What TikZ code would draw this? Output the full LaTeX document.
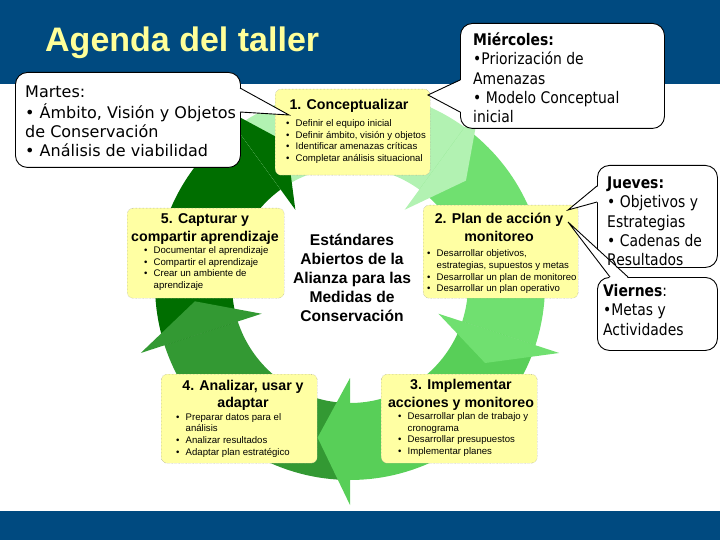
\documentclass[tikz,border=0pt]{standalone}
\usepackage{fontspec}
\setmainfont{Liberation Sans}
\newfontfamily\tah{DejaVu Sans}
\newfontfamily\tahn[FakeStretch=0.87]{DejaVu Sans}
\definecolor{band}{HTML}{004A80}
\definecolor{titley}{HTML}{FFFF99}
\definecolor{boxy}{HTML}{FFFFA3}
\definecolor{gA}{HTML}{B2F2B2}
\definecolor{gB}{HTML}{70E070}
\definecolor{gC}{HTML}{58CF58}
\definecolor{gD}{HTML}{339933}
\definecolor{gE}{HTML}{006E00}
\newcommand{\bl}{\makebox[9.5pt][l]{\textbullet}}
\newcommand{\ind}{\hspace*{9.5pt}}
\tikzset{
  ybox/.style={fill=boxy, draw=black!45, densely dotted, line width=0.4pt, rounded corners=6pt, anchor=north west, inner sep=0pt},
  btitle/.style={anchor=base, inner sep=0pt, font=\fontsize{14.2}{17.5}\selectfont\bfseries},
  blist/.style={anchor=base west, inner sep=0pt, font=\fontsize{9.6}{11.7}\selectfont},
  callout/.style={fill=white, draw=black, line width=0.9pt, rounded corners=12pt, anchor=north west, inner sep=0pt},
  ctext/.style={anchor=base west, inner sep=0pt, font=\tah\fontsize{16}{19}\selectfont},
  ctextn/.style={anchor=base west, inner sep=0pt, font=\tahn\fontsize{16}{19.3}\selectfont},
  cline/.style={draw=black, line width=0.9pt, line join=miter}
}
\begin{document}
\begin{tikzpicture}[x=1pt,y=-1pt]
\useasboundingbox (0,0) rectangle (720,540);
% bands
\fill[band] (0,0) rectangle (720,84);
\fill[band] (0,511) rectangle (720,540);
\node[anchor=base west, inner sep=0pt, text=titley, font=\fontsize{34}{34}\selectfont\bfseries] (title) at (45,52) {Agenda del taller};
% cycle of arrows
\begin{scope}[shift={(350,285)}]
\foreach \a/\c in {90/gD,162/gE,234/gA,306/gB,378/gC}{
  \pgfmathsetmacro\b{\a+72}
  \fill[\c] plot[domain=\a:\b,samples=40] ({195*cos(\x)},{195*sin(\x)}) -- plot[domain=\b:\a,samples=40] ({118*cos(\x)},{118*sin(\x)}) -- cycle;
}
\foreach \h/\c in {162/gD,234/gE,306/gA,378/gB,450/gC}{
  \fill[\c] (\h:220) -- (\h+12:156) -- (\h:93) -- cycle;
}
\end{scope}
% boxes
\node[ybox, minimum width=155pt, minimum height=86pt] (b1) at (275,89) {};
\node[btitle] (t1) at (349,110) {1. Conceptualizar};
\node[blist] (l1) at (286,126.5) {\begin{tabular}[t]{@{}l@{}}\bl Definir el equipo inicial\\ \bl Definir ámbito, visión y objetos\\ \bl Identificar amenazas críticas\\ \bl Completar análisis situacional\end{tabular}};

\node[ybox, minimum width=157pt, minimum height=90pt] (b5) at (127,208) {};
\node[btitle] (t5) at (205,224) {\begin{tabular}[t]{@{}c@{}}5. Capturar y\\ compartir aprendizaje\end{tabular}};
\node[blist] (l5) at (144,253.5) {\begin{tabular}[t]{@{}l@{}}\bl Documentar el aprendizaje\\ \bl Compartir el aprendizaje\\ \bl Crear un ambiente de\\ \ind aprendizaje\end{tabular}};

\node[ybox, minimum width=155pt, minimum height=93pt] (b2) at (423,205) {};
\node[btitle] (t2) at (499,223.5) {\begin{tabular}[t]{@{}c@{}}2. Plan de acción y\\ monitoreo\end{tabular}};
\node[blist] (l2) at (427,256.8) {\begin{tabular}[t]{@{}l@{}}\bl Desarrollar objetivos,\\ \ind estrategias, supuestos y metas\\ \bl Desarrollar un plan de monitoreo\\ \bl Desarrollar un plan operativo\end{tabular}};

\node[ybox, minimum width=156pt, minimum height=89pt] (b4) at (161,374) {};
\node[btitle] (t4) at (243,390) {\begin{tabular}[t]{@{}c@{}}4. Analizar, usar y\\ adaptar\end{tabular}};
\node[blist] (l4) at (176,420) {\begin{tabular}[t]{@{}l@{}}\bl Preparar datos para el\\ \ind análisis\\ \bl Analizar resultados\\ \bl Adaptar plan estratégico\end{tabular}};

\node[ybox, minimum width=156pt, minimum height=89pt] (b3) at (381,374) {};
\node[btitle] (t3) at (461,389.5) {\begin{tabular}[t]{@{}c@{}}3. Implementar\\ acciones y monitoreo\end{tabular}};
\node[blist] (l3) at (398,419.5) {\begin{tabular}[t]{@{}l@{}}\bl Desarrollar plan de trabajo y\\ \ind cronograma\\ \bl Desarrollar presupuestos\\ \bl Implementar planes\end{tabular}};
% centre
\node[anchor=base, inner sep=0pt, font=\fontsize{15.6}{19}\selectfont\bfseries] (ctr) at (352,245.5) {\begin{tabular}[t]{@{}c@{}}Estándares\\ Abiertos de la\\ Alianza para las\\ Medidas de\\ Conservación\end{tabular}};
% Martes callout
\node[callout, minimum width=225pt, minimum height=95pt] (mar) at (15,72) {};
\coordinate (martip) at (289,115);
\fill[white] (238.8,88) -- (martip) -- (238.8,112) -- cycle;
\draw[cline] (240,88) -- (martip) -- (240,112);
\node[ctext] (mart) at (25,97.5) {\begin{tabular}[t]{@{}l@{}}Martes:\\ • Ámbito, Visión y Objetos\\ de Conservación\\ • Análisis de viabilidad\end{tabular}};
% Miercoles callout
\node[callout, minimum width=204pt, minimum height=105pt] (mie) at (460,23) {};
\coordinate (mietip) at (428,95);
\fill[white] (461.2,80) -- (mietip) -- (461.2,112) -- cycle;
\draw[cline] (460,80) -- (mietip) -- (460,112);
\node[ctextn] (miet) at (473,45.5) {\begin{tabular}[t]{@{}l@{}}\textbf{Miércoles:}\\ •Priorización de\\ Amenazas\\ • Modelo Conceptual\\ inicial\end{tabular}};
% Jueves callout
\node[callout, minimum width=120pt, minimum height=102pt] (jue) at (597,165) {};
\coordinate (juetip) at (568,210);
\fill[white] (598.2,186) -- (juetip) -- (598.2,202) -- cycle;
\draw[cline] (597,186) -- (juetip) -- (597,202);
% Viernes callout
\node[callout, minimum width=120pt, minimum height=73pt] (vie) at (597,277) {};
\coordinate (vietip) at (568,222);
\fill[white] (610,278.2) -- (vietip) -- (628,278.2) -- cycle;
\draw[cline] (610,277) -- (vietip) -- (628,277);
\node[ctextn] (juet) at (607,188.5) {\begin{tabular}[t]{@{}l@{}}\textbf{Jueves:}\\ • Objetivos y\\ Estrategias\\ • Cadenas de\\ Resultados\end{tabular}};
\node[ctextn] (viet) at (603,296.5) {\begin{tabular}[t]{@{}l@{}}\textbf{Viernes}:\\ •Metas y\\ Actividades\end{tabular}};
\end{tikzpicture}
\end{document}
